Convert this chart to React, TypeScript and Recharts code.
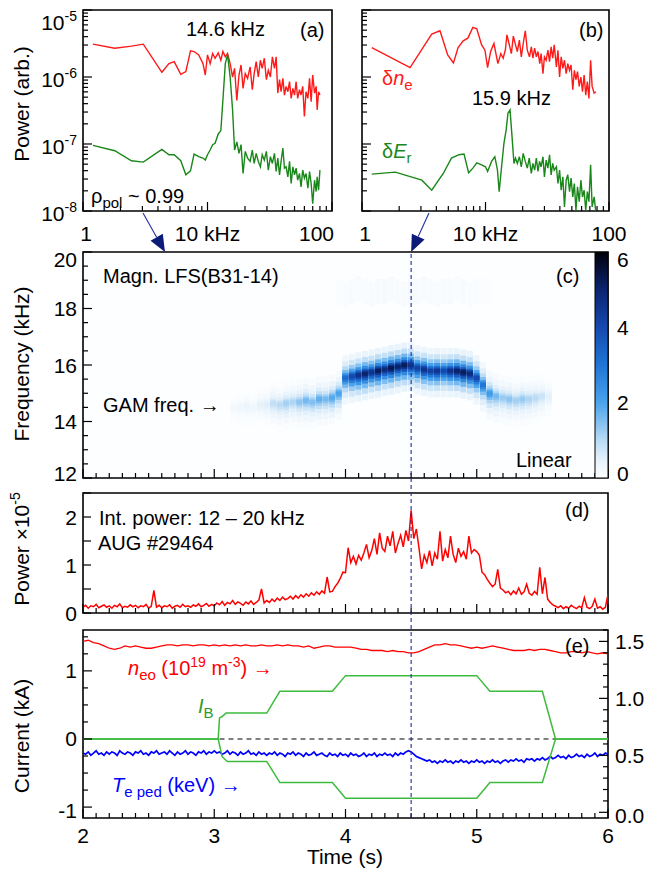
import React from 'react';
import {
  LineChart,
  Line,
  ComposedChart,
  BarChart,
  Bar,
  Cell,
  XAxis,
  YAxis,
  ReferenceLine,
  ReferenceArea,
} from 'recharts';

const W = 651;
const H = 870;
const FONT = '"Liberation Sans", Arial, Helvetica, sans-serif';

// (a) spectra at rho_pol ~ 0.99: frequency (kHz) and log10 of power (arb.)
const aFreq = [1.2, 1.8, 2.45, 3.05, 4.3, 4.9, 5.4, 6.1, 6.7, 7.3, 7.8, 8.5, 9.2, 9.6, 10, 10.5, 11, 11.5, 12.2, 12.8, 13.3, 13.9, 14.5, 15.2, 15.9, 16.5, 17.2, 17.9, 18.6, 19.3, 20.1, 21, 22, 22.9, 23.7, 24.6, 25.6, 26.6, 27.5, 28.6, 29.7, 30.8, 32, 33.2, 34.5, 35.6, 36.7, 37.9, 39, 40.3, 41.5, 42.8, 44.2, 45.6, 47, 48.5, 50, 51.5, 53, 54.8, 56.4, 58.2, 60, 61.9, 64, 66, 68, 70, 72.4, 74.6, 76, 78, 80];
const aDensityLog = [-5.51, -5.57, -5.54, -5.51, -5.93, -5.8, -5.77, -5.96, -5.92, -5.61, -5.62, -5.67, -5.8, -5.97, -5.67, -5.8, -5.65, -5.72, -5.64, -5.75, -5.62, -5.7, -5.65, -5.8, -6.0, -5.87, -6.35, -5.97, -5.82, -6.17, -5.95, -6.02, -5.85, -6.19, -5.95, -5.77, -6.0, -5.75, -5.87, -5.72, -6.04, -5.9, -6.0, -5.7, -5.87, -5.7, -6.24, -6.04, -6.22, -6.02, -6.27, -6.14, -6.22, -6.07, -6.32, -6.17, -6.27, -6.07, -6.32, -6.19, -6.27, -6.14, -6.59, -6.22, -6.32, -6.02, -6.37, -5.97, -6.24, -6.14, -6.49, -6.22, -6.27];
const aErLog = [-7.02, -7.1, -7.25, -7.27, -7.08, -7.16, -7.16, -7.25, -7.46, -7.4, -7.15, -7.19, -7.21, -7.24, -7.16, -7.09, -7.01, -6.99, -6.85, -6.8, -6.34, -5.8, -5.67, -6.0, -6.49, -7.09, -6.97, -7.14, -7.01, -7.44, -7.11, -7.21, -7.26, -7.09, -7.29, -7.14, -7.26, -7.34, -7.16, -7.24, -7.11, -7.39, -7.19, -7.29, -7.14, -7.41, -7.21, -7.46, -7.26, -7.06, -7.36, -7.34, -7.49, -7.26, -7.59, -7.34, -7.46, -7.36, -7.54, -7.44, -7.64, -7.39, -7.51, -7.44, -7.66, -7.41, -7.59, -7.89, -7.54, -7.71, -7.49, -7.69, -7.39];

// (b) spectra at the dashed time
const bDensityFreq = [1.2, 2.45, 3.67, 4.28, 4.94, 5.5, 6.0, 6.6, 7.2, 7.9, 8.5, 9.3, 9.9, 10.4, 11, 11.7, 12.6, 13.3, 13.9, 14.5, 14.9, 15.5, 16.2, 16.8, 17.5, 18.1, 18.8, 19.5, 20.2, 21, 21.8, 22.7, 23.5, 24.2, 25, 25.8, 26.6, 27.5, 28.2, 29.2, 30, 31, 32, 33, 34, 35, 36, 37.5, 38.6, 39.8, 41, 42.3, 43.6, 45, 46.4, 47.9, 49.3, 50.9, 52.4, 54, 55.6, 57.4, 59.2, 61, 62.9, 64.8, 66.8, 68.8, 71, 73, 75.8, 78.4];
const bDensityLog = [-5.56, -5.86, -5.36, -5.31, -5.67, -5.79, -5.56, -5.46, -5.42, -5.26, -5.28, -5.52, -5.6, -5.86, -5.62, -5.5, -5.8, -5.65, -5.72, -5.59, -5.37, -5.5, -5.65, -5.39, -5.52, -5.62, -5.45, -5.7, -5.5, -5.31, -5.6, -5.7, -5.55, -5.72, -5.57, -5.7, -5.62, -5.8, -5.65, -5.95, -5.7, -5.75, -5.6, -5.77, -5.55, -5.72, -5.52, -5.85, -5.6, -6.0, -5.7, -5.87, -5.75, -5.95, -5.8, -5.9, -5.82, -6.19, -5.9, -6.04, -5.92, -6.14, -6.0, -6.22, -5.97, -6.27, -6.07, -6.32, -5.75, -6.14, -6.24, -6.22];
const bErFreq = [1.2, 1.86, 3.05, 3.67, 4.55, 5.3, 6.1, 6.7, 7.3, 7.9, 8.5, 9.3, 10, 10.4, 11.2, 11.9, 12.5, 12.9, 13.5, 14.1, 14.7, 15.2, 15.8, 16.4, 17.0, 17.5, 18.1, 18.8, 19.5, 20.2, 21, 21.8, 22.6, 23.5, 24.2, 25, 25.8, 26.6, 27.4, 28.2, 29.2, 30, 31, 32, 33, 34, 35, 36, 37.5, 38.6, 39.8, 41, 42.3, 43.6, 45, 46.4, 47.9, 49.3, 50.9, 52.4, 54, 55.6, 57.4, 59.2, 61, 62.9, 64.8, 66.8, 68.8, 71, 73, 75.8, 78.4];
const bErLog = [-7.45, -7.42, -7.54, -7.69, -7.44, -7.21, -7.16, -7.15, -7.43, -7.36, -7.28, -7.31, -7.34, -7.41, -7.26, -7.19, -7.39, -7.71, -7.34, -6.99, -6.79, -6.54, -6.49, -6.89, -7.29, -7.21, -7.29, -7.19, -7.34, -7.14, -7.26, -7.36, -7.21, -7.44, -7.29, -7.39, -7.21, -7.41, -7.26, -7.34, -7.19, -7.49, -7.24, -7.36, -7.16, -7.46, -7.29, -7.39, -7.34, -7.59, -7.39, -7.69, -7.49, -7.94, -7.54, -7.46, -7.71, -7.51, -7.79, -7.59, -7.99, -7.64, -7.86, -7.54, -7.79, -7.69, -7.99, -7.71, -7.86, -7.31, -7.94, -7.79, -8.03];

// (c) GAM ridge of the magnetic spectrogram: time (s), frequency (kHz), amplitude (0-6)
const ridgeTime = [3.15, 3.2, 3.25, 3.3, 3.35, 3.4, 3.45, 3.5, 3.55, 3.6, 3.65, 3.7, 3.75, 3.8, 3.85, 3.9, 3.95, 4.0, 4.05, 4.1, 4.15, 4.2, 4.25, 4.3, 4.35, 4.4, 4.45, 4.5, 4.55, 4.6, 4.65, 4.7, 4.75, 4.8, 4.85, 4.9, 4.95, 5.0, 5.05, 5.1, 5.15, 5.2, 5.25, 5.3, 5.35, 5.4, 5.45, 5.5, 5.55];
const ridgeFreq = [14.5, 14.5, 14.55, 14.5, 14.6, 14.6, 14.65, 14.6, 14.65, 14.7, 14.7, 14.75, 14.7, 14.8, 14.8, 14.85, 15.0, 15.55, 15.6, 15.65, 15.7, 15.75, 15.8, 15.85, 15.9, 15.95, 16.0, 16.0, 15.9, 15.85, 15.8, 15.8, 15.8, 15.8, 15.8, 15.75, 15.7, 15.55, 15.3, 15.0, 14.9, 14.85, 14.8, 14.75, 14.8, 14.8, 14.85, 14.9, 14.9];
const ridgeAmp = [0.25, 0.3, 0.35, 0.3, 0.45, 0.55, 0.9, 1.0, 1.2, 1.1, 1.4, 1.6, 1.5, 1.8, 1.6, 1.9, 2.0, 3.2, 4.0, 4.6, 5.0, 4.6, 5.2, 4.8, 5.3, 5.0, 5.2, 4.6, 4.2, 4.6, 4.2, 4.5, 4.0, 4.6, 5.0, 5.2, 4.8, 4.0, 3.0, 2.2, 1.6, 1.3, 1.4, 1.2, 1.3, 1.1, 1.0, 0.8, 0.5];
const N = null;
const harmFreq = [N, N, N, N, N, N, N, N, N, N, N, N, N, N, N, N, 18.6, 18.5, 18.6, 18.7, 18.6, 18.5, 18.6, 18.6, 18.7, 18.6, 18.5, 18.6, 18.6, 18.7, 18.6, 18.5, 18.6, 18.6, 18.7, 18.6, 18.5, 18.6, 18.6, 18.6, N, N, N, N, N, N, N, N, N];
const harmAmp = [0, 0, 0, 0, 0, 0, 0, 0, 0, 0, 0, 0, 0, 0, 0, 0, 0.3, 0.4, 0.45, 0.5, 0.4, 0.5, 0.45, 0.55, 0.5, 0.45, 0.5, 0.55, 0.5, 0.45, 0.5, 0.4, 0.45, 0.5, 0.4, 0.45, 0.35, 0.4, 0.3, 0.3, 0, 0, 0, 0, 0, 0, 0, 0, 0];
const colorbarRange = [0, 6];

// (d) integrated power 12-20 kHz (x1e-5), every 20 ms from 2 s
const intPower = [
  0.12, 0.16, 0.1, 0.15, 0.13, 0.18, 0.11, 0.14, 0.17, 0.12,
  0.15, 0.1, 0.16, 0.13, 0.19, 0.11, 0.14, 0.12, 0.17, 0.13,
  0.16, 0.11, 0.15, 0.13, 0.18, 0.1, 0.14, 0.47, 0.12, 0.16,
  0.11, 0.15, 0.13, 0.17, 0.1, 0.14, 0.16, 0.12, 0.18, 0.13,
  0.15, 0.12, 0.17, 0.14, 0.19, 0.13, 0.16, 0.2, 0.14, 0.18,
  0.15, 0.21, 0.17, 0.24, 0.16, 0.22, 0.19, 0.26, 0.18, 0.23,
  0.2, 0.16, 0.23, 0.19, 0.25, 0.18, 0.22, 0.27, 0.5, 0.21,
  0.26, 0.22, 0.29, 0.24, 0.31, 0.26, 0.33, 0.28, 0.3, 0.35,
  0.29, 0.36, 0.31, 0.38, 0.33, 0.4, 0.35, 0.42, 0.37, 0.44,
  0.39, 0.46, 0.41, 0.75, 0.44, 0.45, 0.55, 0.62, 0.72, 0.85,
  0.84, 1.36, 1.05, 1.18, 1.02, 1.2, 1.1, 1.25, 1.43, 1.15,
  1.3, 1.55, 1.22, 1.67, 1.35, 1.28, 1.6, 1.4, 1.7, 1.25,
  1.45, 1.62, 1.38, 1.72, 1.5, 2.14, 1.55, 1.75, 1.35, 0.92,
  1.2, 1.05, 1.3, 0.98, 1.25, 1.12, 1.7, 1.08, 1.32, 1.15,
  1.6, 1.22, 1.05, 1.35, 1.18, 1.28, 1.12, 1.6, 1.25, 1.32,
  1.28, 1.2, 0.85, 0.8, 0.7, 0.62, 0.55, 0.6, 0.91, 0.52,
  0.48, 0.42, 0.45, 0.38, 0.46, 0.4, 0.52, 0.39, 0.44, 0.6,
  0.41, 0.37, 0.45, 0.39, 0.95, 0.4, 0.74, 0.29, 0.22, 0.17,
  0.14, 0.11, 0.15, 0.09, 0.13, 0.1, 0.16, 0.12, 0.09, 0.14,
  0.11, 0.32, 0.12, 0.09, 0.14, 0.29, 0.1, 0.13, 0.08, 0.12,
  0.39,
];

// (e) core density (every 40 ms), pedestal Te (every 20 ms), coil current I_B
const neo = [
  1.5, 1.51, 1.49, 1.48, 1.46, 1.44, 1.43, 1.44, 1.46, 1.45,
  1.46, 1.45, 1.44, 1.44, 1.45, 1.46, 1.47, 1.47, 1.46, 1.47,
  1.47, 1.46, 1.47, 1.47, 1.46, 1.47, 1.46, 1.47, 1.46, 1.47,
  1.46, 1.47, 1.46, 1.46, 1.47, 1.46, 1.46, 1.47, 1.46, 1.47,
  1.46, 1.46, 1.45, 1.46, 1.44, 1.45, 1.46, 1.46, 1.45, 1.45,
  1.45, 1.45, 1.44, 1.43, 1.43, 1.42, 1.42, 1.42, 1.41, 1.42,
  1.41, 1.41, 1.4, 1.4, 1.41, 1.43, 1.45, 1.47, 1.47, 1.48,
  1.47, 1.47, 1.46, 1.45, 1.44, 1.45, 1.44, 1.45, 1.46, 1.45,
  1.44, 1.43, 1.42, 1.42, 1.42, 1.43, 1.42, 1.43, 1.43, 1.42,
  1.41, 1.4, 1.4, 1.41, 1.41, 1.4, 1.41, 1.4, 1.39, 1.4,
  1.39,
];
const tePed = [
  0.52, 0.51, 0.53, 0.5, 0.52, 0.54, 0.51, 0.52, 0.5, 0.53,
  0.51, 0.53, 0.52, 0.5, 0.54, 0.52, 0.51, 0.53, 0.52, 0.5,
  0.53, 0.52, 0.54, 0.51, 0.52, 0.5, 0.53, 0.52, 0.54, 0.51,
  0.52, 0.53, 0.51, 0.54, 0.52, 0.5, 0.53, 0.51, 0.52, 0.54,
  0.51, 0.53, 0.52, 0.5, 0.53, 0.52, 0.54, 0.51, 0.53, 0.52,
  0.54, 0.52, 0.53, 0.51, 0.52, 0.54, 0.51, 0.53, 0.52, 0.5,
  0.53, 0.51, 0.52, 0.54, 0.51, 0.52, 0.5, 0.53, 0.51, 0.52,
  0.5, 0.52, 0.51, 0.53, 0.5, 0.52, 0.51, 0.49, 0.52, 0.51,
  0.53, 0.5, 0.52, 0.51, 0.49, 0.52, 0.5, 0.51, 0.53, 0.5,
  0.51, 0.52, 0.5, 0.49, 0.52, 0.5, 0.51, 0.49, 0.52, 0.5,
  0.51, 0.49, 0.52, 0.5, 0.51, 0.49, 0.5, 0.52, 0.49, 0.51,
  0.5, 0.52, 0.49, 0.51, 0.5, 0.52, 0.5, 0.51, 0.49, 0.52,
  0.5, 0.52, 0.51, 0.53, 0.54, 0.53, 0.51, 0.49, 0.48, 0.47,
  0.46, 0.45, 0.46, 0.44, 0.45, 0.43, 0.45, 0.44, 0.46, 0.44,
  0.45, 0.43, 0.45, 0.44, 0.46, 0.44, 0.45, 0.43, 0.45, 0.44,
  0.46, 0.44, 0.45, 0.43, 0.45, 0.44, 0.46, 0.44, 0.45, 0.43,
  0.45, 0.46, 0.44, 0.46, 0.45, 0.47, 0.45, 0.46, 0.44, 0.47,
  0.46, 0.47, 0.45, 0.47, 0.46, 0.48, 0.46, 0.47, 0.49, 0.47,
  0.48, 0.5, 0.48, 0.49, 0.47, 0.5, 0.48, 0.49, 0.51, 0.49,
  0.5, 0.48, 0.51, 0.49, 0.5, 0.52, 0.49, 0.51, 0.5, 0.52,
  0.51,
];
const ibUpperTime = [2, 3.03, 3.04, 3.06, 3.09, 3.4, 3.5, 3.9, 4.0, 5.0, 5.1, 5.5, 5.6, 6];
const ibUpper = [0, 0, 0.31, 0.33, 0.38, 0.38, 0.7, 0.7, 0.93, 0.93, 0.7, 0.7, 0, 0];
const ibLowerTime = [2, 3.03, 3.06, 3.1, 3.4, 3.5, 3.9, 4.0, 5.0, 5.1, 5.5, 5.6, 6];
const ibLower = [0, 0, -0.26, -0.33, -0.33, -0.64, -0.64, -0.87, -0.87, -0.64, -0.64, 0, 0];

// ticks
const freqTicks = [1, 2, 3, 4, 5, 6, 7, 8, 9, 10, 20, 30, 40, 50, 60, 70, 80, 90, 100];
const freqLabels: Record<number, string> = { 1: '1', 10: '10 kHz', 100: '100' };
const powerTicks = [1e-8, 2e-8, 3e-8, 4e-8, 5e-8, 6e-8, 7e-8, 8e-8, 9e-8, 1e-7, 2e-7, 3e-7, 4e-7, 5e-7, 6e-7, 7e-7, 8e-7, 9e-7, 1e-6, 2e-6, 3e-6, 4e-6, 5e-6, 6e-6, 7e-6, 8e-6, 9e-6, 1e-5];
const timeTicks = [2, 2.1, 2.2, 2.3, 2.4, 2.5, 2.6, 2.7, 2.8, 2.9, 3, 3.1, 3.2, 3.3, 3.4, 3.5, 3.6, 3.7, 3.8, 3.9, 4, 4.1, 4.2, 4.3, 4.4, 4.5, 4.6, 4.7, 4.8, 4.9, 5, 5.1, 5.2, 5.3, 5.4, 5.5, 5.6, 5.7, 5.8, 5.9, 6];
const specFreqTicks = [12, 12.5, 13, 13.5, 14, 14.5, 15, 15.5, 16, 16.5, 17, 17.5, 18, 18.5, 19, 19.5, 20];
const intPowerTicks = [0, 0.5, 1, 1.5, 2, 2.5];
const currentTicks = [-1, -0.75, -0.5, -0.25, 0, 0.25, 0.5, 0.75, 1, 1.25, 1.5];
const rightTicks = [0, 0.1, 0.2, 0.3, 0.4, 0.5, 0.6, 0.7, 0.8, 0.9, 1, 1.1, 1.2, 1.3, 1.4, 1.5, 1.6];
const colorbarTicks = [0, 2, 4, 6];

// colour map of the spectrogram (amplitude 0..6)
const cmapStops: [number, string][] = [
  [0, '#ffffff'], [0.5, '#e4f1fb'], [1, '#b9dbf5'], [2, '#4aa3ec'],
  [3, '#1f76d6'], [4, '#1549b0'], [5, '#0b2470'], [6, '#000008'],
];
const hex = (h: string) => [1, 3, 5].map((i) => parseInt(h.slice(i, i + 2), 16));
function cmap(v: number) {
  const x = Math.max(0, Math.min(6, v));
  for (let i = 1; i < cmapStops.length; i++) {
    const [v1, c1] = cmapStops[i];
    if (x <= v1) {
      const [v0, c0] = cmapStops[i - 1];
      const k = (x - v0) / (v1 - v0);
      const a = hex(c0), b = hex(c1);
      const c = a.map((q, j) => Math.round(q + (b[j] - q) * k));
      return `rgb(${c[0]},${c[1]},${c[2]})`;
    }
  }
  return cmapStops[cmapStops.length - 1][1];
}

// spectrogram band drawn as nested layers: [amplitude factor, kHz below ridge, kHz above ridge]
const bandLayers: [number, number, number][] = [
  [0.08, 0.95, 0.8],
  [0.18, 0.72, 0.58],
  [0.32, 0.52, 0.4],
  [0.5, 0.36, 0.27],
  [0.7, 0.24, 0.17],
  [0.88, 0.15, 0.11],
  [1.0, 0.08, 0.06],
];

// tables
const spec = (freq: number[], lg: number[]) => freq.map((f, i) => ({ f, p: Math.pow(10, lg[i]) }));
const sampled = (step: number, vals: number[]) => vals.map((v, i) => ({ t: +(2 + i * step).toFixed(3), v }));
const pairs = (ts: number[], vs: number[]) => ts.map((t, i) => ({ t, v: vs[i] }));

const aDensity = spec(aFreq, aDensityLog);
const aEr = spec(aFreq, aErLog);
const bDensity = spec(bDensityFreq, bDensityLog);
const bEr = spec(bErFreq, bErLog);
const specRows = ridgeTime.map((t, i) => {
  const f = ridgeFreq[i];
  const h = harmFreq[i];
  const row: Record<string, any> = {
    t,
    amp: ridgeAmp[i],
    hamp: harmAmp[i],
    harm: h == null ? null : [h - 0.45, h + 0.45],
  };
  bandLayers.forEach(([, lo, hi], k) => {
    row[`l${k}`] = [f - lo, f + hi];
  });
  return row;
});
const colorbarRows = [{ k: 'scale', range: colorbarRange }];
const dRows = sampled(0.02, intPower);
const neoRows = sampled(0.04, neo);
const teRows = sampled(0.02, tePed);
const ibUpRows = pairs(ibUpperTime, ibUpper);
const ibLoRows = pairs(ibLowerTime, ibLower);

// plot rectangles on the page
type Rect = { x: number; y: number; w: number; h: number };
const RA: Rect = { x: 83, y: 10, w: 249, h: 201 };
const RB: Rect = { x: 362, y: 10, w: 247, h: 201 };
const RC: Rect = { x: 83, y: 252, w: 525, h: 226 };
const RCB: Rect = { x: 595, y: 252, w: 13, h: 226 };
const RD: Rect = { x: 83, y: 493, w: 525, h: 120 };
const RE: Rect = { x: 83, y: 630, w: 525, h: 188 };
const RARROW: Rect = { x: 83, y: 213, w: 525, h: 39 };
const RGUIDE: Rect = { x: 83, y: 252, w: 525, h: 566 };
// axes are 1px thick (a zero-size axis is not drawn), so the margins leave that pixel out
const mg = (r: Rect, l = 1, b = 1, rt = 0) => ({
  left: r.x - l,
  top: r.y,
  right: W - r.x - r.w - rt,
  bottom: H - r.y - r.h - b,
});
const layer: React.CSSProperties = { position: 'absolute', left: 0, top: 0 };

// inward ticks with optional labels
interface TickOpts {
  side: 'left' | 'right' | 'bottom';
  major: (v: number) => boolean;
  label?: (v: number) => React.ReactNode;
  dy?: (v: number) => number;
  dx?: (v: number) => number;
  anchor?: (v: number) => string | undefined;
  lens?: [number, number];
}
const makeTick = (o: TickOpts) => (props: any) => {
  const { x, y, payload } = props;
  const v: number = payload.value;
  const big = o.major(v);
  const lens = o.lens || [9, 5];
  const len = big ? lens[0] : lens[1];
  const lab = big && o.label ? o.label(v) : null;
  let l: number[];
  let tx: number;
  let ty: number;
  let anchor = 'middle';
  if (o.side === 'left') {
    l = [x, y, x + len, y]; tx = x - 6; ty = y + 7.5; anchor = 'end';
  } else if (o.side === 'right') {
    l = [x - len, y, x, y]; tx = x + 7; ty = y + 7.5; anchor = 'start';
  } else {
    l = [x, y, x, y - len]; tx = x; ty = y + 30;
  }
  const a = o.anchor ? o.anchor(v) : undefined;
  return (
    <g>
      {len > 0 && <line x1={l[0]} y1={l[1]} x2={l[2]} y2={l[3]} stroke="#000" strokeWidth={1.2} />}
      {lab != null && (
        <text x={tx + (o.dx ? o.dx(v) : 0)} y={ty + (o.dy ? o.dy(v) : 0)} textAnchor={a || anchor} fontSize={21} fontFamily={FONT} fill="#000">
          {lab}
        </text>
      )}
    </g>
  );
};

const isDecade = (v: number) => Math.abs(Math.log10(v) - Math.round(Math.log10(v))) < 1e-6;
const isInt = (v: number) => Math.abs(v - Math.round(v)) < 1e-6;
const powLabel = (v: number) => (
  <>
    <tspan>10</tspan>
    <tspan fontSize={14} dy={-9}>{String(Math.round(Math.log10(v)))}</tspan>
  </>
);

const axisBase = { tickSize: 0, tickMargin: 0, tickLine: false, axisLine: false, interval: 0 as const, allowDataOverflow: true };

const ArrowShape = (p: any) => {
  const { x1, y1, x2, y2 } = p;
  if (x1 == null) return <g />;
  const dx = x2 - x1;
  const dy = y2 - y1;
  const L = Math.hypot(dx, dy) || 1;
  const ux = dx / L;
  const uy = dy / L;
  const head = 17;
  const half = 7;
  const bx = x2 - ux * head;
  const by = y2 - uy * head;
  const nx = -uy;
  const ny = ux;
  return (
    <g>
      <line x1={x1} y1={y1} x2={bx} y2={by} stroke="#23319a" strokeWidth={1.1} />
      <polygon points={`${x2},${y2} ${bx + nx * half},${by + ny * half} ${bx - nx * half},${by - ny * half}`} fill="#0c1a78" />
    </g>
  );
};

function SpectrumPanel({ rect, density, er, showY }: { rect: Rect; density: any[]; er: any[]; showY: boolean }) {
  const leftPanel = rect === RA;
  return (
    <div style={layer}>
      <LineChart width={W} height={H} margin={mg(rect)}>
        <XAxis
          {...axisBase}
          type="number"
          dataKey="f"
          scale="log"
          domain={[1, 100]}
          ticks={freqTicks}
          height={1}
          tick={makeTick({
            side: 'bottom',
            major: (v) => v === 1 || v === 10 || v === 100,
            label: (v) => freqLabels[v],
            anchor: (v) => (leftPanel && v === 100 ? 'end' : undefined),
            dx: (v) => (leftPanel && v === 100 ? 2 : v === 1 ? 3 : 0),
          })}
        />
        <YAxis
          {...axisBase}
          type="number"
          scale="log"
          domain={[1e-8, 1e-5]}
          ticks={powerTicks}
          width={1}
          tick={makeTick({
            side: 'left',
            major: isDecade,
            label: showY ? powLabel : undefined,
            dy: (v) => (v > 5e-6 ? 12 : 2.5),
          })}
        />
        <ReferenceArea x1={1} x2={100} y1={1e-8} y2={1e-5} fill="none" stroke="#000" strokeWidth={1.6} ifOverflow="visible" />
        <Line data={density} dataKey="p" stroke="#ff1a1a" strokeWidth={1.4} dot={false} isAnimationActive={false} />
        <Line data={er} dataKey="p" stroke="#1a871a" strokeWidth={1.4} dot={false} isAnimationActive={false} />
      </LineChart>
    </div>
  );
}

export default function App() {
  const timeTick = makeTick({ side: 'bottom', major: isInt });
  const timeTickLabeled = makeTick({ side: 'bottom', major: isInt, label: (v) => String(v), dy: () => -5 });
  const T = { fontFamily: FONT, fontSize: 20 };
  return (
    <div style={{ position: 'absolute', left: 0, top: 0, width: W, height: H, background: '#fff', fontFamily: FONT }}>
      <SpectrumPanel rect={RA} density={aDensity} er={aEr} showY />
      <SpectrumPanel rect={RB} density={bDensity} er={bEr} showY={false} />

      {/* (c) spectrogram */}
      <div style={layer}>
        <ComposedChart width={W} height={H} margin={mg(RC)} data={specRows} barSize={6} barGap={-6}>
          <XAxis {...axisBase} type="number" dataKey="t" domain={[2, 6]} ticks={timeTicks} height={1} tick={timeTick} />
          <YAxis
            {...axisBase}
            type="number"
            domain={[12, 20]}
            ticks={specFreqTicks}
            width={1}
            tick={makeTick({
              side: 'left',
              major: (v) => isInt(v / 2),
              label: (v) => String(v),
              dy: (v) => (v === 20 ? 7 : v === 12 ? -5 : 0),
            })}
          />
          <ReferenceArea x1={2} x2={6} y1={12} y2={20} fill="#fbfdff" stroke="#000" strokeWidth={1.6} ifOverflow="visible" />
          <Bar dataKey="harm" isAnimationActive={false}>
            {specRows.map((r, i) => <Cell key={i} fill={cmap(r.hamp * 0.3)} />)}
          </Bar>
          {bandLayers.map(([fac], k) => (
            <Bar key={k} dataKey={`l${k}`} isAnimationActive={false}>
              {specRows.map((r, i) => <Cell key={i} fill={cmap(r.amp * fac)} />)}
            </Bar>
          ))}
        </ComposedChart>
      </div>

      {/* colour bar */}
      <div style={layer}>
        <BarChart width={W} height={H} margin={mg(RCB, 0, 0, 1)} data={colorbarRows} barCategoryGap={0}>
          <defs>
            <linearGradient id="cbarGrad" x1="0" y1="1" x2="0" y2="0">
              {cmapStops.map(([v, c]) => (
                <stop key={v} offset={v / 6} stopColor={c} />
              ))}
            </linearGradient>
          </defs>
          <XAxis dataKey="k" hide height={0} />
          <YAxis
            {...axisBase}
            orientation="right"
            type="number"
            domain={[0, 6]}
            ticks={colorbarTicks}
            width={1}
            tick={makeTick({
              side: 'right',
              major: () => true,
              label: (v) => String(v),
              lens: [0, 0],
              dx: () => 2,
              dy: (v) => (v === 6 ? 7 : v === 0 ? -5 : 0),
            })}
          />
          <Bar dataKey="range" fill="url(#cbarGrad)" stroke="#000" strokeWidth={1} isAnimationActive={false} />
        </BarChart>
      </div>

      {/* (d) integrated power */}
      <div style={layer}>
        <LineChart width={W} height={H} margin={mg(RD)} data={dRows}>
          <XAxis {...axisBase} type="number" dataKey="t" domain={[2, 6]} ticks={timeTicks} height={1} tick={timeTick} />
          <YAxis
            {...axisBase}
            type="number"
            domain={[0, 2.5]}
            ticks={intPowerTicks}
            width={1}
            tick={makeTick({ side: 'left', major: isInt, label: (v) => String(v), lens: [8, 8] })}
          />
          <ReferenceArea x1={2} x2={6} y1={0} y2={2.5} fill="none" stroke="#000" strokeWidth={1.6} ifOverflow="visible" />
          <Line dataKey="v" stroke="#ff0000" strokeWidth={1.5} dot={false} isAnimationActive={false} />
        </LineChart>
      </div>

      {/* (e) density, Te and coil current */}
      <div style={layer}>
        <LineChart width={W} height={H} margin={mg(RE, 1, 1, 1)}>
          <XAxis {...axisBase} type="number" dataKey="t" domain={[2, 6]} ticks={timeTicks} height={1} tick={timeTickLabeled} />
          <YAxis
            {...axisBase}
            yAxisId="l"
            type="number"
            domain={[-1.16, 1.6]}
            ticks={currentTicks}
            width={1}
            tick={makeTick({ side: 'left', major: isInt, label: (v) => String(v), dy: (v) => (v === -1 ? 3 : 0) })}
          />
          <YAxis
            {...axisBase}
            yAxisId="r"
            orientation="right"
            type="number"
            domain={[-0.05, 1.6]}
            ticks={rightTicks}
            width={1}
            tick={makeTick({ side: 'right', major: (v) => isInt(v * 2), label: (v) => v.toFixed(1), dy: (v) => (v === 0 ? 3 : 0) })}
          />
          <ReferenceArea yAxisId="l" x1={2} x2={6} y1={-1.16} y2={1.6} fill="none" stroke="#000" strokeWidth={1.6} ifOverflow="visible" />
          <ReferenceLine yAxisId="l" segment={[{ x: 3.04, y: 0 }, { x: 5.6, y: 0 }]} stroke="#000" strokeWidth={1.1} strokeDasharray="5 4" />
          <Line yAxisId="r" data={neoRows} dataKey="v" stroke="#ff0000" strokeWidth={1.3} dot={false} isAnimationActive={false} />
          <Line yAxisId="r" data={teRows} dataKey="v" stroke="#0000ff" strokeWidth={1.7} dot={false} isAnimationActive={false} />
          <Line yAxisId="l" data={ibUpRows} dataKey="v" stroke="#3dbb3d" strokeWidth={1.5} dot={false} isAnimationActive={false} />
          <Line yAxisId="l" data={ibLoRows} dataKey="v" stroke="#3dbb3d" strokeWidth={1.5} dot={false} isAnimationActive={false} />
        </LineChart>
      </div>

      {/* dashed time marker through (c)-(e) */}
      <div style={layer}>
        <LineChart width={W} height={H} margin={mg(RGUIDE, 0, 0, 0)}>
          <XAxis type="number" dataKey="t" domain={[2, 6]} allowDataOverflow hide height={0} />
          <YAxis type="number" domain={[0, 1]} allowDataOverflow hide width={0} />
          <ReferenceLine x={4.5} stroke="#1c2a9c" strokeWidth={1.1} strokeDasharray="4 3" ifOverflow="visible" />
        </LineChart>
      </div>

      {/* arrows from the spectra to the spectrogram */}
      <div style={layer}>
        <LineChart width={W} height={H} margin={mg(RARROW, 0, 0, 0)}>
          <XAxis type="number" dataKey="t" domain={[2, 6]} allowDataOverflow hide height={0} />
          <YAxis type="number" domain={[0, 1]} allowDataOverflow hide width={0} />
          <ReferenceLine segment={[{ x: 2.457, y: 1 }, { x: 2.625, y: 0 }]} shape={ArrowShape} ifOverflow="visible" />
          <ReferenceLine segment={[{ x: 4.636, y: 1 }, { x: 4.5, y: 0 }]} shape={ArrowShape} ifOverflow="visible" />
        </LineChart>
      </div>

      {/* texts */}
      <svg width={W} height={H} style={layer}>
        <g {...T} fill="#000">
          <text x={186} y={36}>14.6 kHz</text>
          <text x={300} y={37}>(a)</text>
          <text x={579} y={37}>(b)</text>
          <text x={472} y={105}>15.9 kHz</text>
          <text x={91} y={203}>
            <tspan>ρ</tspan>
            <tspan fontSize={15} dy={5}>pol</tspan>
            <tspan dy={-5}>{' ~ 0.99'}</tspan>
          </text>
          <text x={103} y={283}>Magn. LFS(B31-14)</text>
          <text x={556} y={283}>(c)</text>
          <text x={103} y={412}>GAM freq. →</text>
          <text x={516} y={467}>Linear</text>
          <text x={99} y={525}>Int. power: 12 – 20 kHz</text>
          <text x={98} y={550}>AUG #29464</text>
          <text x={565} y={517}>(d)</text>
          <text x={565} y={653}>(e)</text>
          <text x={345} y={864} textAnchor="middle" fontSize={21}>Time (s)</text>
        </g>
        <text x={382} y={85} {...T} fill="#ff1a1a">
          <tspan>δ</tspan>
          <tspan fontStyle="italic">n</tspan>
          <tspan fontSize={15} dy={5}>e</tspan>
        </text>
        <text x={382} y={158} {...T} fill="#1a871a">
          <tspan>δ</tspan>
          <tspan fontStyle="italic">E</tspan>
          <tspan fontSize={15} dy={5}>r</tspan>
        </text>
        <text x={128} y={675} {...T} fill="#ff0000">
          <tspan fontStyle="italic">n</tspan>
          <tspan fontSize={15} dy={5}>eo</tspan>
          <tspan dy={-5}>{' (10'}</tspan>
          <tspan fontSize={14} dy={-8}>19</tspan>
          <tspan dy={8}>{' m'}</tspan>
          <tspan fontSize={14} dy={-8}>-3</tspan>
          <tspan dy={8}>{') →'}</tspan>
        </text>
        <text x={198} y={713} {...T} fill="#2a9a2a">
          <tspan fontStyle="italic">I</tspan>
          <tspan fontSize={15} dy={5}>B</tspan>
        </text>
        <text x={112} y={792} {...T} fill="#0000ff">
          <tspan fontStyle="italic">T</tspan>
          <tspan fontSize={15} dy={5}>e ped</tspan>
          <tspan dy={-5}>{' (keV) →'}</tspan>
        </text>
        <g fontFamily={FONT} fontSize={21} fill="#000" textAnchor="middle">
          <text x={29} y={104} transform="rotate(-90 29 104)">Power (arb.)</text>
          <text x={29} y={364} transform="rotate(-90 29 364)">Frequency (kHz)</text>
          <text x={29} y={549} transform="rotate(-90 29 549)">
            <tspan>Power ×10</tspan>
            <tspan fontSize={14} dy={-9}>-5</tspan>
          </text>
          <text x={29} y={736} transform="rotate(-90 29 736)">Current (kA)</text>
        </g>
      </svg>
    </div>
  );
}
